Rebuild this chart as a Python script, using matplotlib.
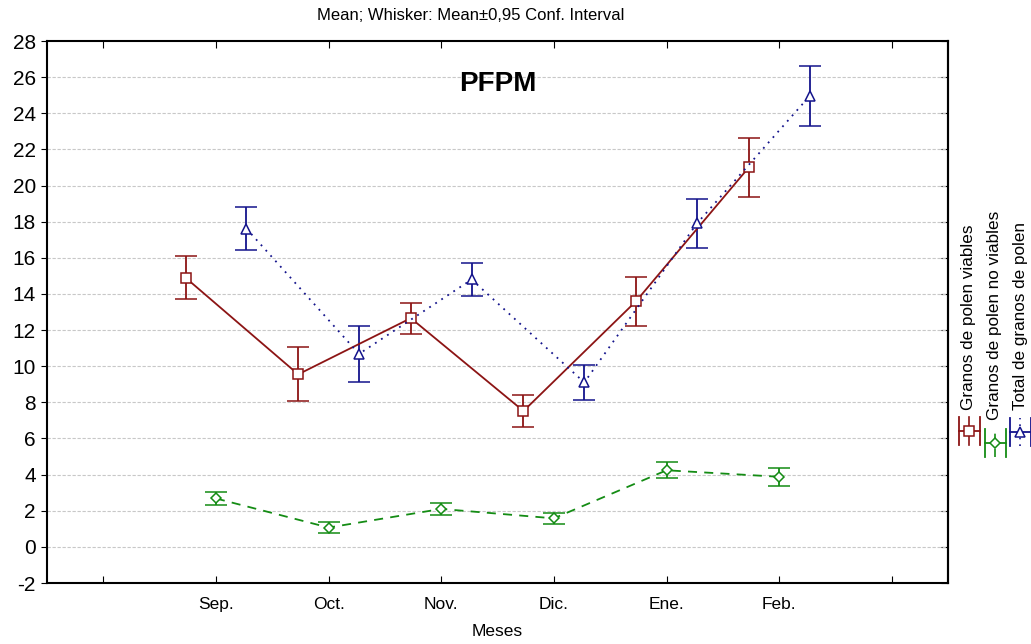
import numpy as np
import matplotlib
matplotlib.use("Agg")
import matplotlib.pyplot as plt
from matplotlib.lines import Line2D

plt.rcParams['font.family'] = ['Liberation Sans', 'DejaVu Sans']
plt.rcParams['axes.unicode_minus'] = False

months = ["Sep.", "Oct.", "Nov.", "Dic.", "Ene.", "Feb."]

viables_mean = [14.9, 9.55, 12.66, 7.52, 13.6, 21.0]
viables_ci = [1.2, 1.5, 0.85, 0.9, 1.35, 1.62]

no_viables_mean = [2.68, 1.07, 2.1, 1.58, 4.24, 3.88]
no_viables_ci = [0.37, 0.29, 0.33, 0.32, 0.45, 0.5]

total_mean = [17.62, 10.68, 14.8, 9.1, 17.9, 24.95]
total_ci = [1.2, 1.55, 0.9, 0.95, 1.38, 1.64]

series_names = ["Granos de polen viables", "Granos de polen no viables",
                "Total de granos de polen"]

red = "#8c1414"
green = "#148c14"
blue = "#14148c"

fig = plt.figure(figsize=(10.31, 6.44), dpi=100)
ax = fig.add_axes([0.0456, 0.0947, 0.874, 0.8416])

x = np.arange(1, len(months) + 1)
off = 0.27

styles = [
    (viables_mean, viables_ci, -off, red, "s", "-"),
    (no_viables_mean, no_viables_ci, 0.0, green, "D", (0, (5, 4))),
    (total_mean, total_ci, off, blue, "^", (0, (1, 3))),
]

for mean, ci, dx, col, mk, ls in styles:
    ms = 6.5 if mk == "s" else (5.5 if mk == "D" else 7.5)
    ax.errorbar(x + dx, mean, yerr=ci, color=col, ecolor=col, elinewidth=1.3,
                capsize=8, capthick=1.3, linestyle=ls, linewidth=1.3,
                marker=mk, markersize=ms, markerfacecolor="white",
                markeredgecolor=col, markeredgewidth=1.1, zorder=3)

ax.set_xlim(-0.5, 7.5)
ax.set_ylim(-2, 28)
ax.set_yticks(np.arange(-2, 29, 2))
ax.set_xticks(np.arange(0, 8))
ax.set_xticklabels([""] + months + [""])
ax.tick_params(axis="x", direction="in", length=5, top=True, labelsize=12.5, pad=10)
ax.tick_params(axis="y", direction="out", length=4, labelsize=15, pad=4)
sec = ax.secondary_yaxis("right")
sec.set_yticks(np.arange(-2, 29, 2))
sec.tick_params(direction="in", length=5, labelright=False)
for spine in list(ax.spines.values()) + list(sec.spines.values()):
    spine.set_linewidth(1.5)

for yv in np.arange(0, 27, 2):
    ax.axhline(yv, color="#c8c8c8", linestyle=(0, (3, 1.5)), linewidth=0.8, zorder=1)

ax.set_xlabel("Meses", fontsize=12.5, labelpad=9)
ax.text(0.5, 0.92, "PFPM", transform=ax.transAxes, fontsize=20,
        fontweight="bold", ha="center", va="center")
fig.text(471 / 1031, 1 - 15 / 644, "Mean; Whisker: Mean\u00b10,95 Conf. Interval",
         fontsize=12, ha="center", va="center")

# legend drawn by hand: rotated labels with small error-bar symbols
leg_x = [969, 995, 1020]
leg_y = [431, 443, 432]
leg_text_bottom = [410, 420, 410]
for i, (name, st) in enumerate(zip(series_names, styles)):
    col, mk, ls = st[3], st[4], st[5]
    cx = leg_x[i] / 1031
    cy = 1 - leg_y[i] / 644
    hw = 10.5 / 1031
    hh = 14 / 644
    fig.add_artist(Line2D([cx - hw, cx + hw], [cy, cy], transform=fig.transFigure,
                          color=col, lw=1.3))
    for sx in (cx - hw, cx + hw):
        fig.add_artist(Line2D([sx, sx], [cy - hh, cy + hh], transform=fig.transFigure,
                              color=col, lw=1.3))
    fig.add_artist(Line2D([cx, cx], [cy - hh, cy + hh], transform=fig.transFigure,
                          color=col, lw=1.2, linestyle=ls))
    ms = 6.5 if mk == "s" else (5.5 if mk == "D" else 7.5)
    fig.add_artist(Line2D([cx], [cy], transform=fig.transFigure, marker=mk,
                          markersize=ms, markerfacecolor="white",
                          markeredgecolor=col, markeredgewidth=1.1, linestyle="none"))
    fig.text(cx, 1 - leg_text_bottom[i] / 644, name, rotation=90, fontsize=12.3,
             ha="center", va="bottom")

fig.savefig("out.png", dpi=100)
